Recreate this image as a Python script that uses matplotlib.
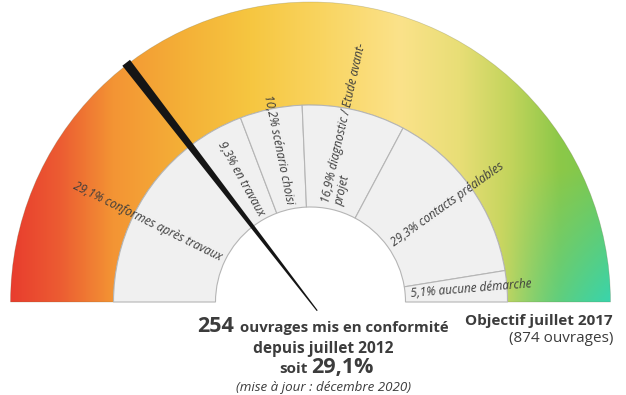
import numpy as np
import matplotlib
matplotlib.use("Agg")
import matplotlib.pyplot as plt
from matplotlib.patches import Wedge, Polygon

# data
labels = ["29,1% conformes après travaux", "9,3% en travaux", "10,2% scénario choisi",
          "16,9% diagnostic / Etude avant-\nprojet", "29,3% contacts préalables",
          "5,1% aucune démarche"]
shares = [29.1, 9.3, 10.2, 16.9, 29.3, 5.1]
done_count = 254
target_count = 874
done_pct = 29.1

plt.rcParams['font.family'] = ['Open Sans', 'DejaVu Sans']
W, H = 626, 395
fig = plt.figure(figsize=(W / 100, H / 100), dpi=100)
ax = fig.add_axes([0, 0, 1, 1])
ax.set_xlim(0, W)
ax.set_ylim(0, H)
ax.set_aspect('equal')
ax.axis('off')

cx, cy = 310.5, H - 302
r_out, r_mid, r_in = 300, 197, 95

# gradient ring
xs = np.arange(W) + 0.5
ys = np.arange(H) + 0.5
X, Y = np.meshgrid(xs, ys)  # Y is image row (top = 0)
stops_x = [10, 60, 113, 180, 250, 320, 400, 460, 510, 560, 611]
stops_c = np.array([(232, 60, 46), (236, 92, 50), (243, 148, 52), (244, 175, 55),
                    (246, 198, 64), (249, 212, 95), (251, 226, 138), (232, 222, 118),
                    (195, 212, 92), (140, 200, 72), (118, 200, 82)]) / 255
img = np.zeros((H, W, 3))
for k in range(3):
    img[..., k] = np.interp(X, stops_x, stops_c[:, k])
w = np.clip((X - 500) / 111, 0, 1) * np.clip((Y - 170) / 130, 0, 1)
teal = np.array([58, 212, 172]) / 255
img = img * (1 - w[..., None]) + teal * w[..., None]
im = ax.imshow(img, extent=(0, W, 0, H), origin='upper', zorder=1)
ring = Wedge((cx, cy), r_out, 0, 180, width=r_out - r_mid, facecolor='none',
             edgecolor='none')
ax.add_patch(ring)
im.set_clip_path(ring)
ax.add_patch(Wedge((cx, cy), r_out, 0, 180, width=r_out - r_mid, facecolor='none',
                   edgecolor='#6a6a40', lw=0.5, alpha=0.3, zorder=2))

# grey segments
start = 180.0
total = sum(shares)
for lab, s in zip(labels, shares):
    span = 180.0 * s / total
    t1, t2 = start - span, start
    ax.add_patch(Wedge((cx, cy), r_mid, t1, t2, width=r_mid - r_in,
                       facecolor='#f0f0f0', edgecolor='#b5b5b5', lw=0.8, zorder=3))
    mid = np.radians((t1 + t2) / 2)
    ang = np.degrees(mid)
    tx, ty = cx + 100 * np.cos(mid), cy + 100 * np.sin(mid)
    if ang > 90:
        ax.text(tx, ty, lab, rotation=ang - 180, rotation_mode='anchor',
                ha='right', va='center', fontsize=8.5, style='italic',
                color='#3c3c3c', zorder=6)
    else:
        ax.text(tx, ty, lab, rotation=ang, rotation_mode='anchor',
                ha='left', va='center', fontsize=8.5, style='italic',
                color='#3c3c3c', zorder=6, multialignment='left',
                linespacing=1.05)
    start = t1

# needle
th = np.radians(180 - 180 * done_pct / 100)
d = np.array([np.cos(th), np.sin(th)])
p = np.array([-d[1], d[0]])
c = np.array([cx, cy])
base = c + d * 302
tip = c - d * 11
needle = [base + p * 4.8, base - p * 4.8, tip - p * 0.6, tip + p * 0.6]
ax.add_patch(Polygon(needle, closed=True, facecolor='#151515', edgecolor='none',
                     zorder=7))

# texts below
tc = '#3c3c3c'
ax.text(234, H - 332, f"{done_count}", fontsize=15.5, fontweight='bold',
        ha='right', va='baseline', color=tc)
ax.text(240, H - 332, "ouvrages mis en conformité", fontsize=10.8, fontweight='bold',
        ha='left', va='baseline', color=tc)
ax.text(323, H - 353, "depuis juillet 2012", fontsize=11.2, fontweight='bold',
        ha='center', va='baseline', color=tc)
ax.text(308, H - 373, "soit", fontsize=11, fontweight='bold',
        ha='right', va='baseline', color=tc)
ax.text(311, H - 373, f"{done_pct:.1f}%".replace('.', ','), fontsize=15.5,
        fontweight='bold', ha='left', va='baseline', color=tc)
ax.text(324, H - 387, "(mise à jour : décembre 2020)", fontsize=9.6, style='italic',
        ha='center', va='center', color=tc)
ax.text(613, H - 321, "Objectif juillet 2017", fontsize=11, fontweight='bold',
        ha='right', va='center', color=tc)
ax.text(613, H - 339, f"({target_count} ouvrages)", fontsize=11,
        ha='right', va='center', color=tc)

fig.savefig('out.png', dpi=100)
